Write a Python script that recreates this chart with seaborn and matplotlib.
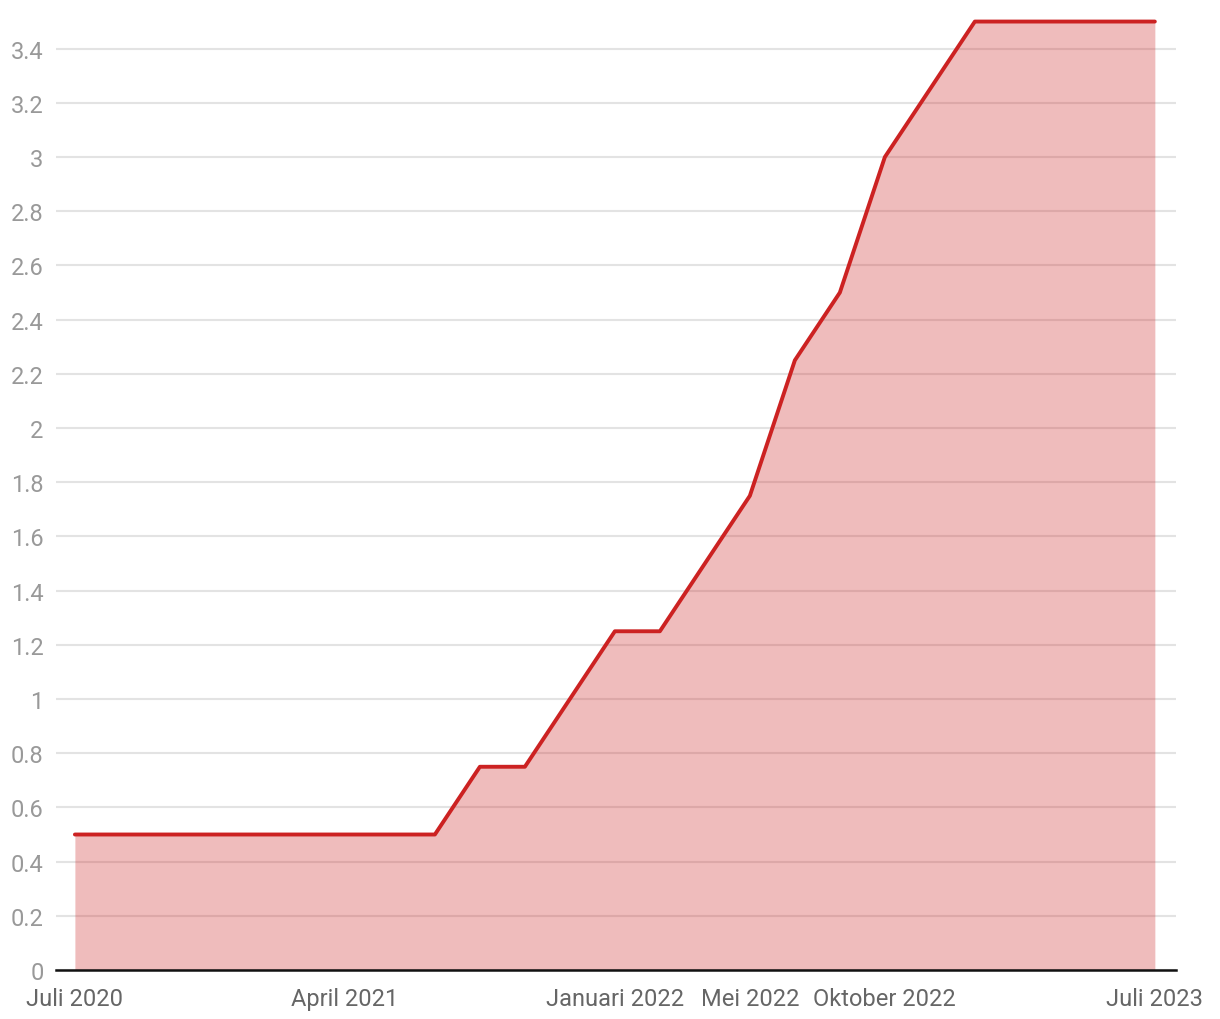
import numpy as np
import pandas as pd
import matplotlib
matplotlib.use("Agg")
import matplotlib.pyplot as plt
import seaborn as sns

# policy rate, one value every ~6 weeks from Juli 2020 to Juli 2023
rate = [0.5, 0.5, 0.5, 0.5, 0.5, 0.5, 0.5, 0.5, 0.5,
        0.75, 0.75, 1.0, 1.25, 1.25, 1.5, 1.75, 2.25, 2.5, 3.0,
        3.25, 3.5, 3.5, 3.5, 3.5, 3.5]
period = list(range(len(rate)))
tick_pos = [0, 6, 12, 15, 18, 24]
tick_labels = ["Juli 2020", "April 2021", "Januari 2022", "Mei 2022", "Oktober 2022", "Juli 2023"]
y_ticks = [0, 0.2, 0.4, 0.6, 0.8, 1, 1.2, 1.4, 1.6, 1.8, 2, 2.2, 2.4, 2.6, 2.8, 3, 3.2, 3.4]

df = pd.DataFrame({"period": period, "rate": rate})

sns.set_style("white")
plt.rcParams["font.family"] = ["Roboto", "DejaVu Sans"]

fig = plt.figure(figsize=(12.2, 10.2), dpi=100)
ax = fig.add_axes([56 / 1220, 49 / 1020, 1120 / 1220, 962 / 1020])

ax.fill_between(df["period"], 0, df["rate"], color="#cc2222", alpha=0.3, lw=0, zorder=2)
sns.lineplot(data=df, x="period", y="rate", color="#cc2222", lw=2.8, ax=ax, zorder=3)

ax.set_xlim(-0.42, 24.47)
ax.set_ylim(0, 3.55)
ax.set_yticks(y_ticks)
ax.set_yticklabels([f"{v:g}" for v in y_ticks])
ax.set_xticks(tick_pos)
ax.set_xticklabels(tick_labels)
ax.tick_params(axis="y", length=0, pad=9, labelsize=17, labelcolor="#999999")
ax.tick_params(axis="x", length=0, pad=12, labelsize=17, labelcolor="#666666")
ax.grid(axis="y", color="#e3e3e3", lw=1.5, zorder=1)
ax.set_axisbelow(True)
ax.set_xlabel("")
ax.set_ylabel("")

for side in ["top", "right", "left"]:
    ax.spines[side].set_visible(False)
ax.spines["bottom"].set_color("#111111")
ax.spines["bottom"].set_linewidth(1.8)
ax.spines["bottom"].set_zorder(4)

fig.savefig("out.png", dpi=100)
